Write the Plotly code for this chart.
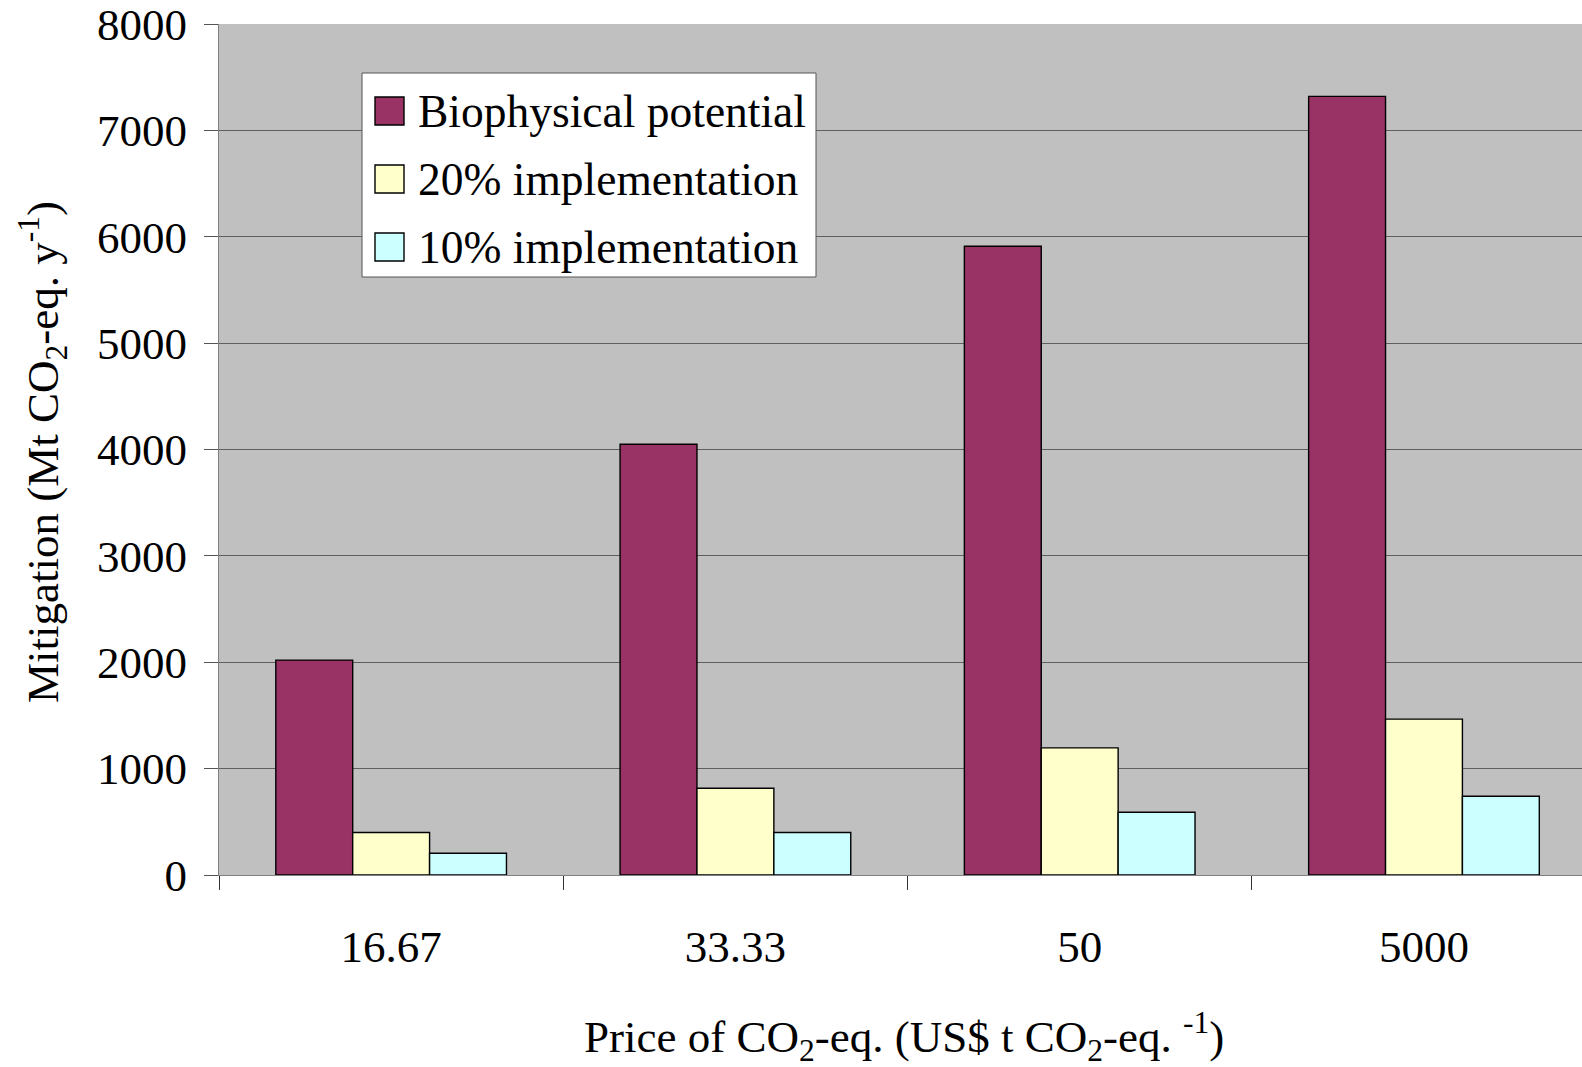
import plotly.graph_objects as go

# ---- data ----
categories = ["16.67", "33.33", "50", "5000"]
series_names = ["Biophysical potential", "20% implementation", "10% implementation"]
biophysical = [2020, 4050, 5910, 7320]
impl20 = [400, 815, 1195, 1465]
impl10 = [205, 400, 590, 740]
y_tick_values = [0, 1000, 2000, 3000, 4000, 5000, 6000, 7000, 8000]

series_values = [biophysical, impl20, impl10]
colors = ["#993366", "#FFFFCC", "#CCFFFF"]

W, H = 1582, 1067
L, R, T, B = 219, 0, 24, 192
FONT = "Liberation Serif"
FS = 45

fig = go.Figure()
for name, vals, col in zip(series_names, series_values, colors):
    fig.add_trace(go.Bar(
        x=categories, y=vals, name=name,
        marker=dict(color=col, line=dict(color="#000000", width=1.4)),
        showlegend=False,
    ))

# pixel -> paper helpers (for the hand-drawn legend box)
pw = W - L - R
ph = H - T - B
def px(x):
    return (x - L) / pw
def py(y):
    return 1 - (y - T) / ph

shapes = [dict(type="rect", xref="paper", yref="paper",
               x0=px(362), x1=px(816), y0=py(277), y1=py(73),
               fillcolor="#FFFFFF", line=dict(color="#555555", width=1), layer="above")]
annotations = []
row_centers = [111, 179, 247]
for name, col, yc in zip(series_names, colors, row_centers):
    shapes.append(dict(type="rect", xref="paper", yref="paper",
                       x0=px(375), x1=px(404), y0=py(yc + 14), y1=py(yc - 14),
                       fillcolor=col, line=dict(color="#000000", width=1.4), layer="above"))
    annotations.append(dict(xref="paper", yref="paper", x=px(416), y=py(yc + 1),
                            xanchor="left", yanchor="middle", text=name, showarrow=False,
                            font=dict(family=FONT, size=45.5, color="#000000")))

# axis titles
annotations.append(dict(xref="paper", yref="paper", x=px(42), y=py(452),
                        xanchor="center", yanchor="middle", textangle=-90, showarrow=False,
                        text="Mitigation (Mt CO<sub>2</sub>-eq. y<sup>-1</sup>)",
                        font=dict(family=FONT, size=FS, color="#000000")))
annotations.append(dict(xref="paper", yref="paper", x=px(904), y=py(1036),
                        xanchor="center", yanchor="middle", showarrow=False,
                        text="Price of CO<sub>2</sub>-eq. (US$ t CO<sub>2</sub>-eq. <sup>-1</sup>)",
                        font=dict(family=FONT, size=FS, color="#000000")))

fig.update_layout(
    width=W, height=H,
    margin=dict(l=L, r=R, t=T, b=B, pad=0),
    paper_bgcolor="#FFFFFF",
    plot_bgcolor="#C0C0C0",
    barmode="group",
    bargap=0.33,
    bargroupgap=0,
    font=dict(family=FONT, size=FS, color="#000000"),
    shapes=shapes,
    annotations=annotations,
    xaxis=dict(
        type="category",
        range=[-0.5, 3.459],
        tickson="boundaries",
        ticks="outside", ticklen=14, tickcolor="#333333", tickwidth=1,
        showline=True, linecolor="#808080", linewidth=1,
        showgrid=False, zeroline=False,
        ticklabelstandoff=32,
        ticklabeloverflow="allow",
        tickfont=dict(family=FONT, size=FS, color="#000000"),
    ),
    yaxis=dict(
        range=[0, 8000],
        tickvals=y_tick_values,
        ticktext=[str(v) for v in y_tick_values],
        ticks="outside", ticklen=14, tickcolor="#555555", tickwidth=1,
        showline=True, linecolor="#808080", linewidth=1,
        showgrid=True, gridcolor="#5F5F5F", gridwidth=1,
        zeroline=False,
        ticklabelstandoff=8,
        ticklabeloverflow="allow",
        tickfont=dict(family=FONT, size=FS, color="#000000"),
    ),
)

fig.write_html("out.html")
